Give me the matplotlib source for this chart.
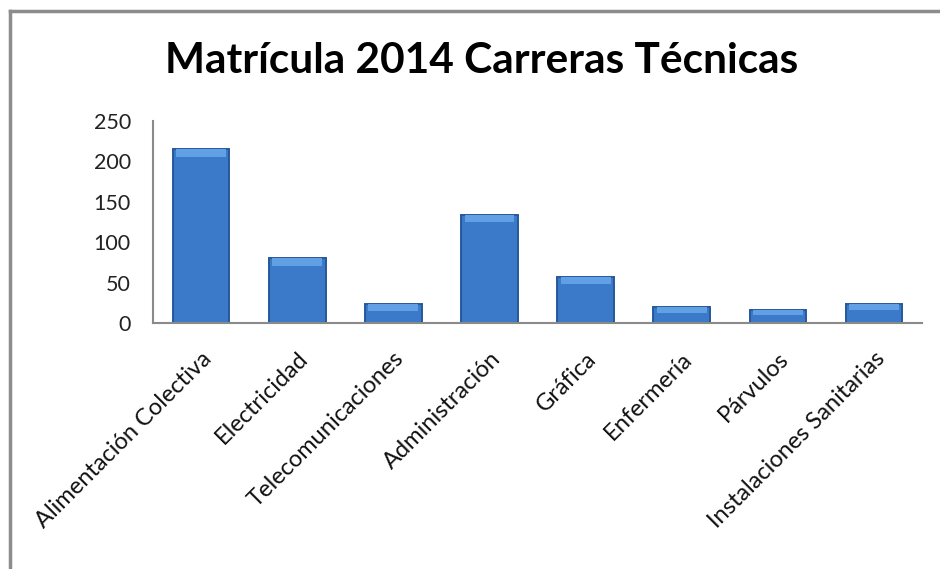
import matplotlib
matplotlib.use("Agg")
import matplotlib.pyplot as plt
from matplotlib.lines import Line2D
import numpy as np

categories = ["Alimentación Colectiva", "Electricidad", "Telecomunicaciones",
              "Administración", "Gráfica", "Enfermería", "Párvulos",
              "Instalaciones Sanitarias"]
values = [215, 80, 23, 134, 57, 20, 16, 24]
yticks = [0, 50, 100, 150, 200, 250]
title = "Matrícula 2014 Carreras Técnicas"

plt.rcParams['font.family'] = ['Lato', 'DejaVu Sans']

fig = plt.figure(figsize=(9.40, 5.69), dpi=100)
fig.patch.set_facecolor('white')
ax = fig.add_axes([0.1628, 0.4323, 0.8182, 0.355])

x = np.arange(len(categories))
w = 0.59
ax.bar(x, values, width=w, color='#3b79c9', edgecolor='#27589a', linewidth=1.4, zorder=2)
# lighter bevel strip at the top of each bar
bev = [min(9, v * 0.35) for v in values]
ax.bar(x, bev, bottom=[v - b for v, b in zip(values, bev)], width=w * 0.88,
       color='#62a0e6', edgecolor='none', linewidth=0, zorder=3)

ax.set_xlim(-0.5, len(categories) - 0.5)
ax.set_ylim(0, 250)
ax.set_yticks(yticks)
ax.set_yticklabels([str(t) for t in yticks], fontsize=15.5, color='#222222')
ax.set_xticks(x)
ax.set_xticklabels(categories, rotation=45, ha='right', va='top',
                   rotation_mode='anchor', fontsize=17, color='#111111')
ax.tick_params(axis='x', length=0, pad=18)
ax.tick_params(axis='y', length=0, pad=16)

for s in ['top', 'right']:
    ax.spines[s].set_visible(False)
for s in ['left', 'bottom']:
    ax.spines[s].set_color('#8a8a8a')
    ax.spines[s].set_linewidth(1.5)

fig.text(0.512, 0.892, title, ha='center', va='center', fontsize=30.5,
         fontweight='bold', color='#000000')

# outer chart border (top and left visible)
fig.add_artist(Line2D([10 / 940, 1.0], [1 - 11 / 569, 1 - 11 / 569],
                      transform=fig.transFigure, color='#8c8c8c', linewidth=2.5))
fig.add_artist(Line2D([10 / 940, 10 / 940], [0, 1 - 11 / 569],
                      transform=fig.transFigure, color='#8c8c8c', linewidth=2.5))

fig.savefig("out.png", dpi=100, facecolor='white')
